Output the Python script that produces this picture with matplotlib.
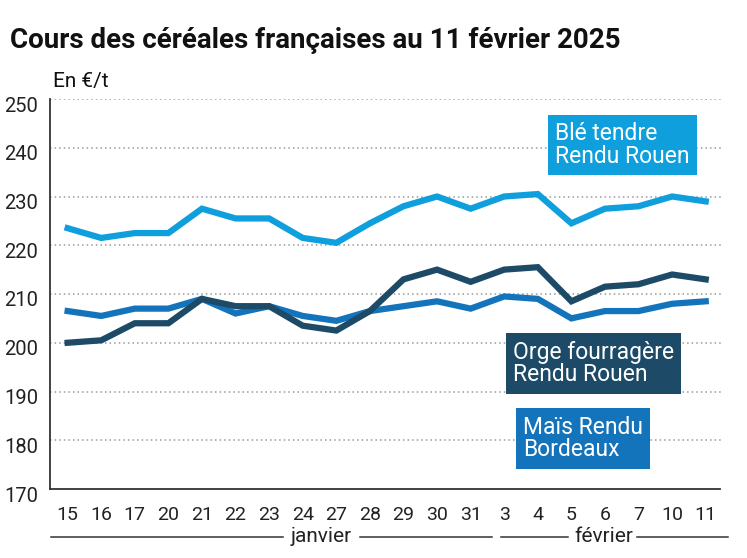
import matplotlib
matplotlib.use("Agg")
import matplotlib.pyplot as plt
import matplotlib.transforms as mtransforms

plt.rcParams["font.family"] = ["Roboto", "DejaVu Sans"]

# ── données ─────────────────────────────────────────────
jours = ["15", "16", "17", "20", "21", "22", "23", "24", "27", "28", "29",
         "30", "31", "3", "4", "5", "6", "7", "10", "11"]

ble = [223.5, 221.5, 222.5, 222.5, 227.5, 225.5, 225.5, 221.5, 220.5, 224.5,
       228.0, 230.0, 227.5, 230.0, 230.5, 224.5, 227.5, 228.0, 230.0, 229.0]
orge = [200.0, 200.5, 204.0, 204.0, 209.0, 207.5, 207.5, 203.5, 202.5, 206.5,
        213.0, 215.0, 212.5, 215.0, 215.5, 208.5, 211.5, 212.0, 214.0, 213.0]
mais = [206.5, 205.5, 207.0, 207.0, 209.0, 206.0, 207.5, 205.5, 204.5, 206.5,
        207.5, 208.5, 207.0, 209.5, 209.0, 205.0, 206.5, 206.5, 208.0, 208.5]

C_BLE = "#0f9fdc"
C_ORGE = "#1c4a67"
C_MAIS = "#1474bb"

fig = plt.figure(figsize=(7.47, 5.58), dpi=100, facecolor="white")
ax = fig.add_axes([50.5 / 747, 1 - 489 / 558, 670 / 747, 390 / 558])

x = list(range(len(jours)))
ax.plot(x, ble, color=C_BLE, lw=4.5, solid_joinstyle="miter", zorder=3)
ax.plot(x, mais, color=C_MAIS, lw=4.5, solid_joinstyle="miter", zorder=3)
ax.plot(x, orge, color=C_ORGE, lw=4.5, solid_joinstyle="miter", zorder=4)

ax.set_xlim(-0.51, 19.44)
ax.set_ylim(170, 250)
ax.set_yticks(range(170, 251, 10))
ax.set_xticks(x)
ax.set_xticklabels(jours)

for v in range(180, 251, 10):
    ax.axhline(v, color="#9a9a9a", lw=1.1, linestyle=(0, (1, 2)), zorder=1)

for s in ["top", "right"]:
    ax.spines[s].set_visible(False)
for s in ["left", "bottom"]:
    ax.spines[s].set_color("#333333")
    ax.spines[s].set_linewidth(1.3)

ax.tick_params(axis="y", length=0, labelsize=14.5, colors="#222222", pad=9)
ax.tick_params(axis="x", length=0, labelsize=14, colors="#222222", pad=12)
off = mtransforms.ScaledTranslation(0, -5 / 100, fig.dpi_scale_trans)
for lab in ax.get_yticklabels():
    lab.set_transform(lab.get_transform() + off)

# étiquettes des séries
boite = dict(boxstyle="square,pad=0.32", ec="none")
ax.text(14.51, 240.6, "Blé tendre\nRendu Rouen", color="white", fontsize=16.5,
        va="center", ha="left", linespacing=0.98, bbox={**boite, "fc": C_BLE}, zorder=5)
ax.text(13.26, 195.75, "Orge fourragère\nRendu Rouen", color="white", fontsize=16.5,
        va="center", ha="left", linespacing=0.98, bbox={**boite, "fc": C_ORGE}, zorder=5)
ax.text(13.56, 180.35, "Maïs Rendu\nBordeaux", color="white", fontsize=16.5,
        va="center", ha="left", linespacing=0.98, bbox={**boite, "fc": C_MAIS}, zorder=5)

# mois sous l'axe
tr = ax.get_xaxis_transform()
ym = -0.123
for x0, x1 in [(-0.49, 6.41), (8.71, 12.64), (12.9, 14.9), (16.95, 19.66)]:
    ax.plot([x0, x1], [ym, ym], color="#333333", lw=1.1, transform=tr, clip_on=False)
ax.text(7.54, ym, "janvier", transform=tr, ha="center", va="center",
        fontsize=15, color="#222222")
ax.text(15.96, ym, "février", transform=tr, ha="center", va="center",
        fontsize=15, color="#222222")

fig.text(10 / 747, 1 - 40 / 558, "Cours des céréales françaises au 11 février 2025",
         fontsize=20, fontweight="bold", color="#111111", va="center", ha="left")
fig.text(53 / 747, 1 - 82 / 558, "En €/t", fontsize=15, color="#111111",
         va="center", ha="left")

fig.savefig("out.png", dpi=100, facecolor="white")
